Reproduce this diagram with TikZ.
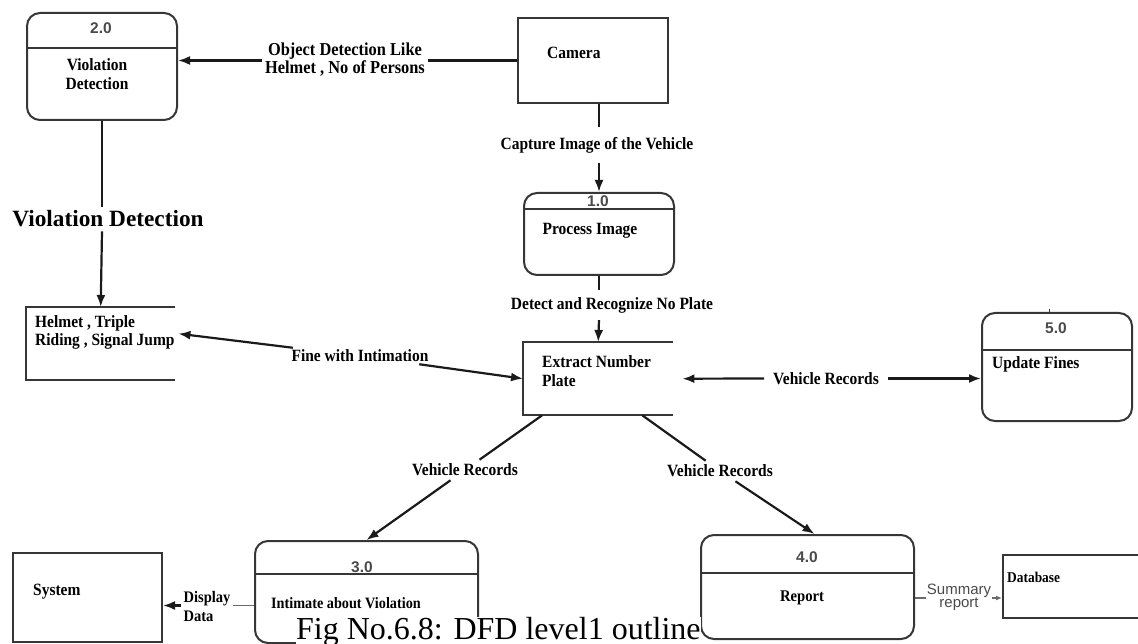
\documentclass[tikz,border=0pt]{standalone}
\usepackage{fontspec}
\setmainfont{Liberation Serif}
\newfontfamily\lblfamily{Liberation Serif}[FakeStretch=0.9]
\newfontfamily\numfamily{Liberation Sans}
\usetikzlibrary{arrows.meta,calc}
\definecolor{edgegray}{HTML}{363636}
\definecolor{numgray}{HTML}{4A4A4A}
\definecolor{flowgray}{HTML}{1A1A1A}
\definecolor{softgray}{HTML}{6A6A6A}
\newcommand{\fsz}[2]{\fontsize{#1}{#2}\selectfont}
\begin{document}
\begin{tikzpicture}[x=1pt,y=-1pt,
  box/.style={draw=edgegray,line width=2pt,inner sep=0pt,anchor=north west},
  procbox/.style={box,rounded corners=13pt},
  openbox/.style={inner sep=0pt,anchor=north west},
  edge/.style={draw=edgegray,line width=2pt},
  numtxt/.style={font=\numfamily\bfseries\fsz{15.5}{18},text=numgray,inner sep=0pt},
  bodytxt/.style={font=\lblfamily\bfseries\fsz{17.2}{18.5},inner sep=0pt,align=left},
  flowlbl/.style={font=\lblfamily\bfseries\fsz{17.2}{18.5},inner sep=3pt,align=center},
  flow/.style={draw=flowgray,line width=2.2pt},
  flowarrow/.style={flow,-{Latex[length=12pt,width=9pt]}},
  thinflow/.style={draw=softgray,line width=1.2pt},
  thinarrow/.style={thinflow,-{Latex[length=6pt,width=5pt]}},
]
\useasboundingbox (0,0) rectangle (1138,644);

% ---------- processes, entities and stores ----------
\node[procbox,minimum width=150pt,minimum height=107pt] (p2) at (26,12) {};
\draw[edge] ($(p2.north west)+(0,36)$) -- ($(p2.north east)+(0,36)$);
\node[numtxt] (n2) at (101,28) {2.0};
\node[bodytxt,align=center] (t2) at (97,74) {Violation\\Detection};

\node[box,minimum width=150pt,minimum height=85pt] (cam) at (517,17) {};
\node[bodytxt,anchor=west] (tcam) at (547,53) {Camera};

\node[procbox,minimum width=150pt,minimum height=82pt] (p1) at (523,192) {};
\draw[edge] ($(p1.north west)+(0,17)$) -- ($(p1.north east)+(0,17)$);
\node[numtxt] (n1) at (598,201) {1.0};
\node[bodytxt] (t1) at (590,231) {Process Image};

\node[openbox,minimum width=149pt,minimum height=73pt] (helm) at (26,307) {};
\draw[edge] (helm.north east) -- (helm.north west) -- (helm.south west) -- (helm.south east);
\node[bodytxt,anchor=west] (thelm) at (35,332.5) {Helmet , Triple\\Riding , Signal Jump};

\node[openbox,minimum width=150pt,minimum height=73pt] (ext) at (523,342) {};
\draw[edge] (ext.north east) -- (ext.north west) -- (ext.south west) -- (ext.south east);
\node[bodytxt,anchor=west] (text1) at (542,371) {Extract Number\\Plate};

\node[procbox,minimum width=150pt,minimum height=108pt] (p5) at (981,312) {};
\draw[edge] ($(p5.north west)+(0,38)$) -- ($(p5.north east)+(0,38)$);
\draw[draw=edgegray,line width=1pt] ($(p5.north west)+(68,-3)$) -- ($(p5.north west)+(68,0)$);
\node[numtxt] (n5) at (1056,328) {5.0};
\node[bodytxt,anchor=west] (t5) at (992,364) {Update Fines};

\node[procbox,minimum width=223pt,minimum height=102pt] (p3) at (254,540) {};
\draw[edge] ($(p3.north west)+(0,34)$) -- ($(p3.north east)+(0,34)$);
\node[numtxt] (n3) at (362,567) {3.0};
\node[bodytxt,font=\lblfamily\bfseries\fsz{15.8}{17}] (t3) at (346,603) {Intimate about Violation};

\node[procbox,minimum width=213pt,minimum height=104pt] (p4) at (700,534) {};
\draw[edge] ($(p4.north west)+(0,39)$) -- ($(p4.north east)+(0,39)$);
\node[numtxt] (n4) at (807,557) {4.0};
\node[bodytxt,font=\lblfamily\bfseries\fsz{16.3}{17}] (t4) at (802,598) {Report};

\node[box,minimum width=149pt,minimum height=89pt] (sys) at (12,552) {};
\node[bodytxt,anchor=west] (tsys) at (33,592) {System};

\node[box,minimum width=145pt,minimum height=63pt] (db) at (1002,554) {};
\node[bodytxt,anchor=west,font=\lblfamily\bfseries\fsz{14.9}{16}] (tdb) at (1007,577) {Database};

% ---------- data flows ----------
% camera -> violation detection
\node[flowlbl,font=\lblfamily\bfseries\fsz{18.2}{18},inner xsep=3pt] (l1) at (345,59.5) {Object Detection Like\\Helmet , No of Persons};
\draw[flow] (cam.west) -- (l1.east |- cam.west);
\draw[flowarrow] (l1.west |- cam.west) -- (p2.east |- cam.west);

% camera -> process image
\node[flowlbl,inner ysep=10pt] (l2) at (597,145) {Capture Image of the Vehicle};
\draw[flow] (p1.north |- cam.south) -- (p1.north |- l2.north);
\draw[flowarrow] (p1.north |- l2.south) -- (p1.north);

% process image -> extract number plate
\node[flowlbl,inner ysep=7pt] (l3) at (612,305) {Detect and Recognize No Plate};
\draw[flow] (p1.south) -- (p1.south |- l3.north);
\draw[flowarrow] (p1.south |- l3.south) -- (ext.north);

% violation detection -> helmet store
\node[flowlbl,font=\bfseries\fsz{23.3}{26},inner ysep=4pt] (l4) at (108,219) {Violation Detection};
\draw[flow] (p2.south) -- (p2.south |- l4.north);
\draw[flowarrow] (p2.south |- l4.south) -- (helm.north);

% fine with intimation, both ways
\node[flowlbl,inner sep=2pt] (l5) at (360,356) {Fine with Intimation};
\draw[flowarrow] (l5) -- ($(helm.east)+(3,-10)$);
\draw[flowarrow] (l5) -- (ext.west);

% extract number plate <-> update fines
\node[flowlbl,inner xsep=9pt] (l6) at (826,378.5) {Vehicle Records};
\draw[flowarrow] (l6.west) -- ($(ext.east)+(9,0)$);
\draw[flowarrow] (l6.east) -- (l6.east -| p5.west);

% extract number plate -> intimate / report
\node[flowlbl,inner sep=4pt] (l7) at (465,470) {Vehicle Records};
\draw[flow] ($(ext.south west)+(19,0)$) -- (l7);
\draw[flowarrow] (l7) -- (p3.north);

\node[flowlbl,inner sep=4pt] (l8) at (720,471) {Vehicle Records};
\draw[flow] ($(ext.south east)+(-31,0)$) -- (l8);
\draw[flowarrow] (l8) -- ($(p4.north)+(7,0)$);

% intimate -> system
\node[bodytxt,font=\lblfamily\bfseries\fsz{16.1}{19},inner xsep=2pt] (l9) at (207,606) {Display\\Data};
\coordinate (dd) at ($(p3.west)+(0,13.5)$);
\draw[thinflow] (dd) -- (dd -| l9.east);
\draw[flowarrow] (dd -| l9.west) -- (dd -| sys.east);

% report -> database
\node[font=\numfamily\fsz{15}{13},text=numgray,align=center,inner xsep=1pt,inner ysep=0pt] (l10) at (959,597) {Summary\\report};
\coordinate (sr) at ($(p4.east)+(0,11)$);
\draw[thinflow] (sr) -- (sr -| l10.west);
\draw[thinarrow] (sr -| l10.east) -- (sr -| db.west);

% ---------- caption ----------
\node[font=\fsz{32}{34},fill=white,inner sep=0pt,anchor=base west] (cap) at (296,639) {Fig No.6.8: DFD level1 outline};
\end{tikzpicture}
\end{document}
